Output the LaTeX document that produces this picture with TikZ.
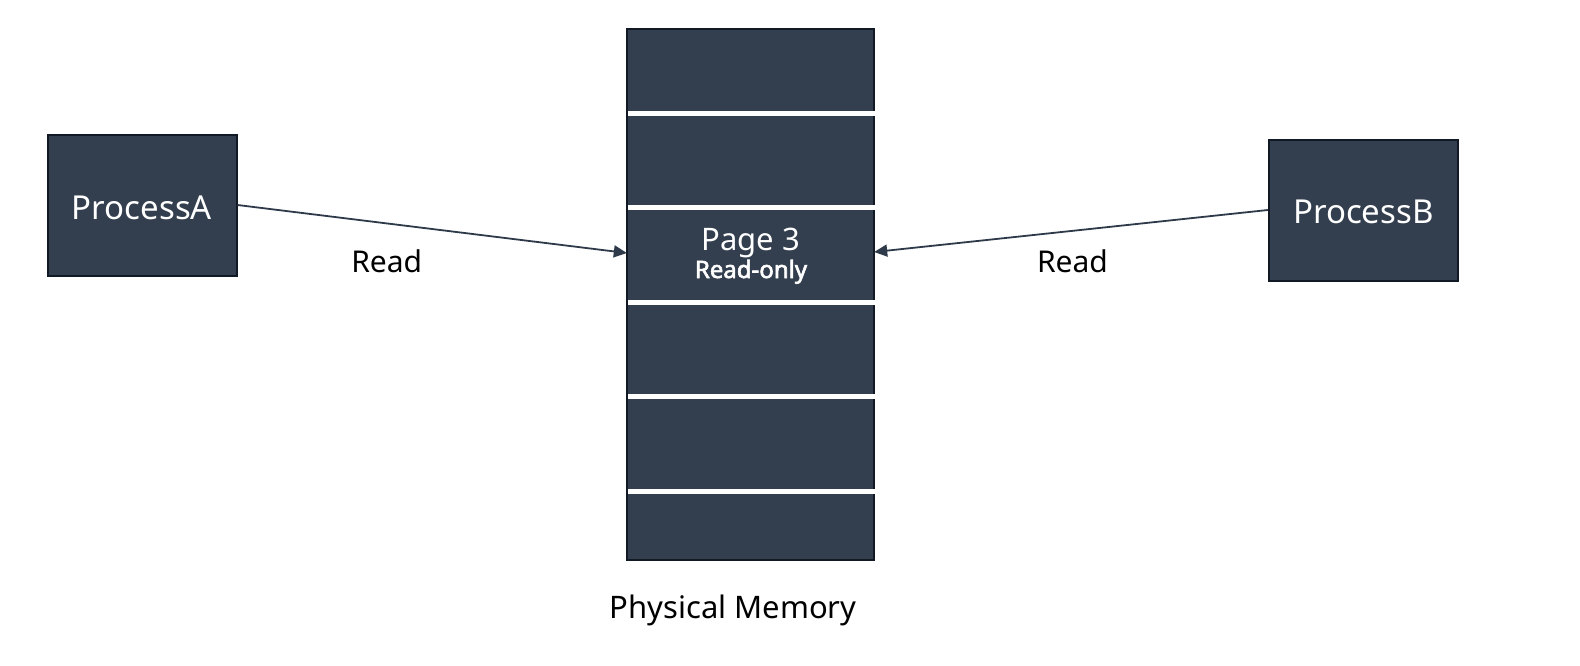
\documentclass[tikz,border=0pt]{standalone}
\usepackage{fontspec}
\setmainfont{Noto Sans}
\newfontfamily\fakebold[FakeBold=2.5]{Noto Sans}
\usetikzlibrary{arrows.meta}
\definecolor{boxfill}{HTML}{333F4F}
\definecolor{boxline}{HTML}{111A24}
\definecolor{arrowc}{HTML}{2E3A4A}
\begin{document}
\begin{tikzpicture}[x=1pt,y=-1pt,
 procbox/.style={draw=boxline,line width=2pt,fill=boxfill,text=white,font=\fontsize{33}{40}\selectfont,minimum width=189pt,minimum height=141pt,inner sep=0pt},
 lbl/.style={anchor=base,font=\fontsize{30}{36}\selectfont,text=black,inner sep=0pt},
 readarrow/.style={draw=arrowc,line width=1.8pt,-{Triangle[length=13pt,width=12pt]}},
 sepline/.style={draw=white,line width=4.7pt}]
\useasboundingbox (0,0) rectangle (1580,665);
\node[procbox,text height=28pt,text depth=0pt] (pA) at (142,205) {ProcessA};
\node[procbox,text height=26pt,text depth=0pt] (pB) at (1363.3,210) {ProcessB};
\node[draw=boxline,line width=2pt,fill=boxfill,minimum width=247pt,minimum height=531pt,inner sep=0pt] (mem) at (750.5,294.7) {};
\foreach \yy in {113.3,207.7,302.3,396.7,491.3}
  \draw[sepline] (627.5,\yy) -- (875.5,\yy);
\node[minimum width=247pt,minimum height=90pt,inner sep=0pt] (page3) at (750.5,255) {};
\node[anchor=base,inner sep=0pt,text=white,font=\fontsize{31}{36}\selectfont] (p3t) at (750.5,250.7) {Page 3};
\node[anchor=base,inner sep=0pt,text=white,font=\fontsize{24}{30}\fakebold] (rot) at (751,278) {Read-only};
\draw[readarrow] (pA.east) -- ([yshift=2pt]page3.west);
\draw[readarrow] (pB.west) -- ([yshift=3pt]page3.east);
\node[lbl] (rA) at (386.7,272.7) {Read};
\node[lbl] (rB) at (1072.5,272.7) {Read};
\node[lbl,font=\fontsize{31}{36}\selectfont] (pm) at (733,618.3) {Physical Memory};
\end{tikzpicture}
\end{document}
